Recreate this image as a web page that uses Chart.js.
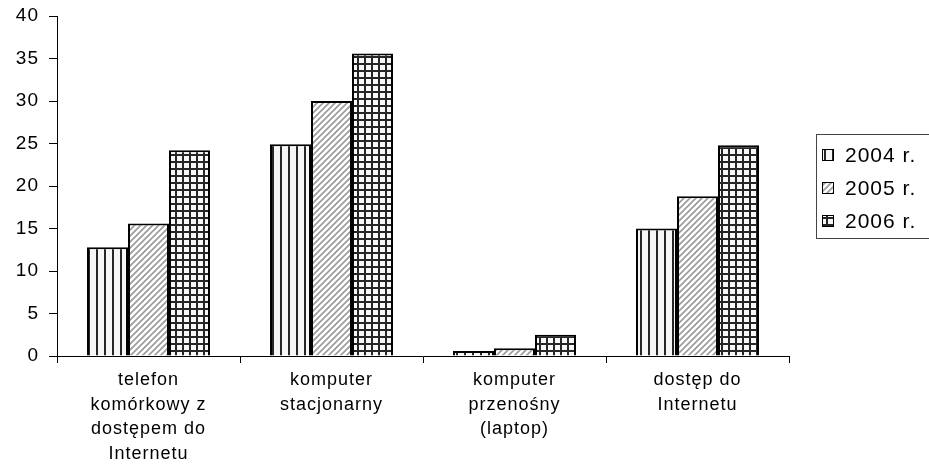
<!DOCTYPE html>
<html><head><meta charset="utf-8">
<script src="https://cdn.jsdelivr.net/npm/chart.js@4/dist/chart.umd.min.js"></script>
<style>html,body{margin:0;padding:0;background:#fff}#wrap{width:929px;height:467px;position:relative}</style>
</head><body><div id="wrap"><canvas id="c"></canvas></div>
<script>
const categories = [
  ["telefon", "komórkowy z", "dostępem do", "Internetu"],
  ["komputer", "stacjonarny"],
  ["komputer", "przenośny", "(laptop)"],
  ["dostęp do", "Internetu"]
];
const seriesNames = ["2004 r.", "2005 r.", "2006 r."];
const values2004 = [12.8, 24.9, 0.6, 15.0];
const values2005 = [15.6, 30.0, 0.9, 18.8];
const values2006 = [24.2, 35.6, 2.5, 24.8];
const yTickValues = [0, 5, 10, 15, 20, 25, 30, 35, 40];

const FONT = "'Liberation Sans', Arial, sans-serif";
const LS = '1px';

function makePattern(kind) {
  const c = document.createElement('canvas');
  const g = c.getContext('2d');
  if (kind === 'v') {
    c.width = 8; c.height = 8;
    g.fillStyle = '#f6f6f6'; g.fillRect(0, 0, 8, 8);
    g.fillStyle = '#262626'; g.fillRect(0, 0, 2, 8);
  } else if (kind === 'd') {
    c.width = 6; c.height = 6;
    g.fillStyle = '#ffffff'; g.fillRect(0, 0, 6, 6);
    g.strokeStyle = '#9a9a9a'; g.lineWidth = 1.6;
    g.beginPath();
    g.moveTo(-1, 7); g.lineTo(7, -1);
    g.moveTo(-4, 4); g.lineTo(4, -4);
    g.moveTo(2, 10); g.lineTo(10, 2);
    g.stroke();
  } else {
    c.width = 7; c.height = 7;
    g.fillStyle = '#f8f8f8'; g.fillRect(0, 0, 7, 7);
    g.fillStyle = '#262626'; g.fillRect(0, 0, 2, 7); g.fillRect(0, 0, 7, 2);
  }
  return g.createPattern(c, 'repeat');
}
const patterns = [makePattern('v'), makePattern('d'), makePattern('g')];

const spacingPlugin = {
  id: 'spacing',
  beforeLayout(chart) { chart.ctx.letterSpacing = LS; },
  beforeDraw(chart) { chart.ctx.letterSpacing = LS; }
};

const boxLegend = {
  id: 'boxLegend',
  afterDraw(chart) {
    const ctx = chart.ctx;
    const ca = chart.chartArea;
    const left = ca.right + 27, top = 134, h = 104;
    ctx.save();
    ctx.letterSpacing = LS;
    ctx.strokeStyle = '#444';
    ctx.lineWidth = 1;
    ctx.strokeRect(left + 0.5, top + 0.5, 150, h);
    ctx.font = '21px ' + FONT;
    ctx.textBaseline = 'middle';
    chart.data.datasets.forEach((ds, i) => {
      const cy = 155 + i * 33;
      ctx.fillStyle = ds.backgroundColor;
      ctx.fillRect(left + 6, cy - 6, 12, 12);
      ctx.strokeStyle = '#000';
      ctx.strokeRect(left + 6.5, cy - 5.5, 11, 11);
      ctx.fillStyle = '#000';
      ctx.fillText(ds.label, left + 29, cy + 1);
    });
    ctx.restore();
  }
};

const ds = (label, data, i) => ({
  label, data,
  backgroundColor: patterns[i],
  borderColor: '#000',
  borderWidth: 2,
  borderSkipped: 'bottom',
  categoryPercentage: 0.672,
  barPercentage: 1.0
});

new Chart(document.getElementById('c'), {
  type: 'bar',
  data: {
    labels: categories,
    datasets: [
      ds(seriesNames[0], values2004, 0),
      ds(seriesNames[1], values2005, 1),
      ds(seriesNames[2], values2006, 2)
    ]
  },
  options: {
    responsive: true,
    maintainAspectRatio: false,
    animation: false,
    events: [],
    layout: { padding: { top: 16, right: 140, bottom: 0, left: 0 } },
    plugins: { legend: { display: false }, tooltip: { enabled: false } },
    scales: {
      x: {
        grid: { display: true, drawOnChartArea: false, drawTicks: true, tickLength: 7, color: '#000', offset: true },
        border: { color: '#000', width: 1 },
        ticks: { color: '#000', font: { family: FONT, size: 18, lineHeight: 1.36 }, padding: 5, maxRotation: 0, autoSkip: false },
        afterFit(s) { s.height = 111; }
      },
      y: {
        min: 0, max: 40,
        afterBuildTicks(s) { s.ticks = yTickValues.map(v => ({ value: v })); },
        grid: { display: true, drawOnChartArea: false, drawTicks: true, tickLength: 8, color: '#000' },
        border: { color: '#000', width: 1 },
        ticks: { color: '#000', font: { family: FONT, size: 19, lineHeight: 1.1 }, padding: 10 },
        afterFit(s) { s.width = 57; s.paddingTop = 0; s.paddingBottom = 0; }
      }
    }
  },
  plugins: [spacingPlugin, boxLegend]
});
</script>
</body></html>
